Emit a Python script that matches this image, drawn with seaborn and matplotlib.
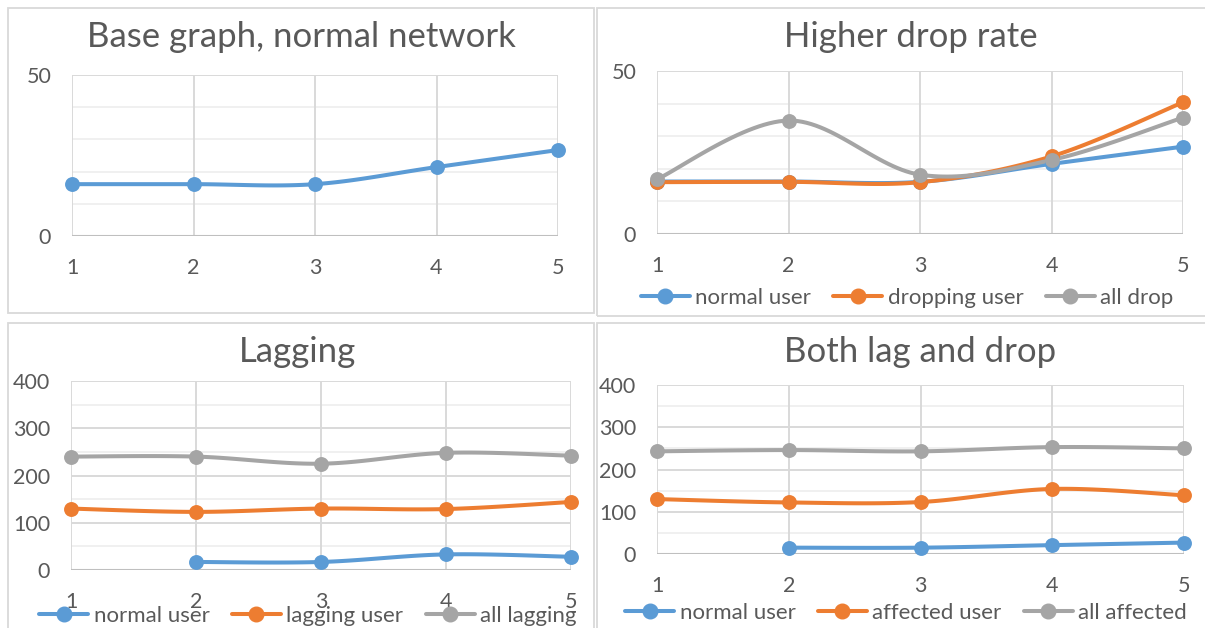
import numpy as np
import pandas as pd
import matplotlib
matplotlib.use("Agg")
import matplotlib.pyplot as plt
from matplotlib.lines import Line2D
from matplotlib.patches import Rectangle
import seaborn as sns

sns.set_theme(style="white")
plt.rcParams['font.family'] = ['Lato', 'DejaVu Sans']

# ---------------- data ----------------
x_vals = [1, 2, 3, 4, 5]

base_normal = [16.1, 16.1, 16.1, 21.4, 26.7]

drop_normal = [16.1, 16.1, 16.0, 21.5, 26.8]
drop_dropping = [15.9, 16.0, 15.9, 23.8, 40.4]
drop_all = [16.8, 34.8, 18.2, 22.7, 35.7]

lag_normal = [np.nan, 17, 17, 33, 28]
lag_lagging = [130, 123, 130, 129, 144]
lag_all = [240, 240, 225, 248, 242]

both_normal = [np.nan, 15, 15, 21, 27]
both_affected = [130, 122, 123, 154, 139]
both_all = [243, 246, 243, 253, 250]

titles = ["Base graph, normal network", "Higher drop rate", "Lagging", "Both lag and drop"]
legend_drop = ["normal user", "dropping user", "all drop"]
legend_lag = ["normal user", "lagging user", "all lagging"]
legend_both = ["normal user", "affected user", "all affected"]

BLUE, ORANGE, GRAY = "#5B9BD5", "#ED7D31", "#A5A5A5"
TXT = "#595959"

W, H = 1205, 628
fig = plt.figure(figsize=(W / 100, H / 100), dpi=100)
fig.patch.set_facecolor("white")


def fx(px):
    return px / W


def fy(py):
    return 1 - py / H


# panel borders
for (l, t, r, b) in [(8, 8, 594, 313), (597, 8, 1225, 316), (8, 323, 594, 660), (597, 323, 1225, 660)]:
    fig.patches.append(Rectangle((fx(l), fy(b)), fx(r - l), (b - t) / H, transform=fig.transFigure,
                                 fill=False, edgecolor="#D9D9D9", lw=1.3, zorder=0))


def smooth(xs, ys, n=30):
    xs = np.asarray(xs, float)
    ys = np.asarray(ys, float)
    m = ~np.isnan(ys)
    xs, ys = xs[m], ys[m]
    P = np.column_stack([xs, ys])
    out = []
    k = len(P)
    for i in range(k - 1):
        p0 = P[i - 1] if i > 0 else P[i]
        p1 = P[i]
        p2 = P[i + 1]
        p3 = P[i + 2] if i + 2 < k else P[i + 1]
        c1 = p1 + (p2 - p0) / 6
        c2 = p2 - (p3 - p1) / 6
        t = np.linspace(0, 1, n)[:, None]
        seg = (1 - t) ** 3 * p1 + 3 * (1 - t) ** 2 * t * c1 + 3 * (1 - t) * t ** 2 * c2 + t ** 3 * p2
        out.append(seg if i == 0 else seg[1:])
    S = np.vstack(out)
    return pd.DataFrame({"x": S[:, 0], "y": S[:, 1]})


def make_ax(left, right, top, bottom, ymax, major, minor, series, title, title_cx, title_cy):
    ax = fig.add_axes([fx(left), fy(bottom), fx(right - left), (bottom - top) / H])
    ax.set_xlim(1, 5)
    ax.set_ylim(0, ymax)
    for s in ax.spines.values():
        s.set_visible(False)
    for v in np.arange(minor, ymax, minor):
        if v % major != 0:
            ax.axhline(v, color="#EEEEEE", lw=1.2, zorder=0)
    for v in np.arange(major, ymax + 1, major):
        ax.axhline(v, color="#D9D9D9", lw=1.4, zorder=0)
    ax.axhline(0, color="#BFBFBF", lw=1.5, zorder=1)
    for xv in x_vals:
        ax.axvline(xv, color="#D9D9D9", lw=1.4, zorder=0)
    for ys, col in series:
        df = smooth(x_vals, ys)
        sns.lineplot(data=df, x="x", y="y", ax=ax, color=col, lw=2.9, sort=False,
                     estimator=None, zorder=3, clip_on=False)
        pts = pd.DataFrame({"x": x_vals, "y": ys}).dropna()
        sns.scatterplot(data=pts, x="x", y="y", ax=ax, color=col, s=115, edgecolor=col,
                        linewidth=0, zorder=4, clip_on=False)
    ax.set_xticks(x_vals)
    ax.set_xticklabels([str(v) for v in x_vals])
    ax.set_yticks(np.arange(0, ymax + 1, major))
    ax.set_yticklabels([str(int(v)) for v in np.arange(0, ymax + 1, major)])
    ax.tick_params(axis="both", length=0, labelsize=15.5, labelcolor=TXT)
    ax.tick_params(axis="x", pad=16)
    ax.tick_params(axis="y", pad=15)
    ax.set_xlabel("")
    ax.set_ylabel("")
    fig.text(fx(title_cx), fy(title_cy), title, ha="center", va="center", fontsize=25, color=TXT)
    return ax


def add_legend(labels, cx, cy):
    handles = [Line2D([0], [0], color=c, lw=2.9, marker="o", markersize=10.5) for c in (BLUE, ORANGE, GRAY)]
    leg = fig.legend(handles, labels, loc="center", bbox_to_anchor=(fx(cx), fy(cy)), ncol=3,
                     frameon=False, fontsize=16, handlelength=2.2, handletextpad=0.25,
                     columnspacing=1.0, borderpad=0, labelcolor=TXT)
    return leg


make_ax(72, 558, 75, 236, 50, 50, 10, [(base_normal, BLUE)], titles[0], 301, 37)
make_ax(657, 1183, 71, 234, 50, 50, 10,
        [(drop_normal, BLUE), (drop_dropping, ORANGE), (drop_all, GRAY)], titles[1], 911, 37)
make_ax(71, 571, 381, 570, 400, 100, 50,
        [(lag_normal, BLUE), (lag_lagging, ORANGE), (lag_all, GRAY)], titles[2], 297, 352)
make_ax(657, 1184, 385, 554, 400, 100, 50,
        [(both_normal, BLUE), (both_affected, ORANGE), (both_all, GRAY)], titles[3], 920, 352)

add_legend(legend_drop, 907, 298)
add_legend(legend_lag, 308, 616)
add_legend(legend_both, 906, 613)

fig.savefig("out.png", dpi=100)
